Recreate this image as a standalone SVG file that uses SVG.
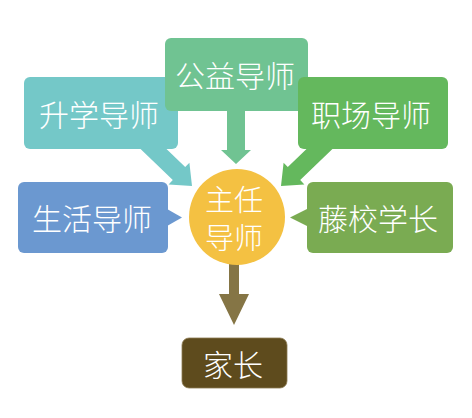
<svg xmlns="http://www.w3.org/2000/svg" width="472" height="418" viewBox="0 0 472 418">
<style>
.t{font-family:"Noto Sans CJK SC","Noto Sans",sans-serif;font-weight:300;fill:#fff;text-anchor:middle;dominant-baseline:central;font-size:30px}
.c{font-size:29px}
</style>
<rect width="472" height="418" fill="#fff"/>
<g id="connectors">
<polygon points="133.8,142.5 172.8,180.1 168.6,184.5 192,186 189.4,162.7 185.2,167.1 146.2,129.5" fill="#74C8C8"/>
<polygon points="339.2,142.5 300.2,180.1 304.4,184.5 281,186 283.6,162.7 287.8,167.1 326.8,129.5" fill="#64B85D"/>
<polygon points="227,100 245,100 245,150 251,150 236,164 221,150 227,150" fill="#70C392"/>
<polygon points="160,205 182,217.5 160,230" fill="#6B98D0"/>
<polygon points="315,205 290,217.5 315,230" fill="#7AAB52"/>
<polygon points="229,255 239,255 239,294 249,294 234,325 219,294 229,294" fill="#857545"/>
</g>
<g id="n-shengxue"><rect x="24" y="77" width="154" height="72" rx="6" fill="#74C8C8"/><text class="t" x="99" y="113">升学导师</text></g>
<g id="n-gongyi"><rect x="165" y="38" width="143" height="73" rx="6" fill="#70C392"/><text class="t" x="235" y="74">公益导师</text></g>
<g id="n-zhichang"><rect x="298" y="77" width="150" height="72" rx="6" fill="#64B85D"/><text class="t" x="371" y="113">职场导师</text></g>
<g id="n-shenghuo"><rect x="18" y="182" width="150" height="71" rx="6" fill="#6B98D0"/><text class="t" x="92" y="217">生活导师</text></g>
<g id="n-tengxiao"><rect x="307" y="182" width="146" height="71" rx="6" fill="#7AAB52"/><text class="t" x="378" y="217">藤校学长</text></g>
<g id="n-zhuren"><circle cx="237" cy="217" r="48" fill="#F4C142"/><text class="t c" x="234" y="198">主任</text><text class="t c" x="234" y="236">导师</text></g>
<g id="n-jiazhang"><rect x="182" y="338" width="105" height="50" rx="7" fill="#5E4B1D" stroke="#8C7A50" stroke-width="0.8"/><text class="t" x="233" y="363">家长</text></g>
</svg>
